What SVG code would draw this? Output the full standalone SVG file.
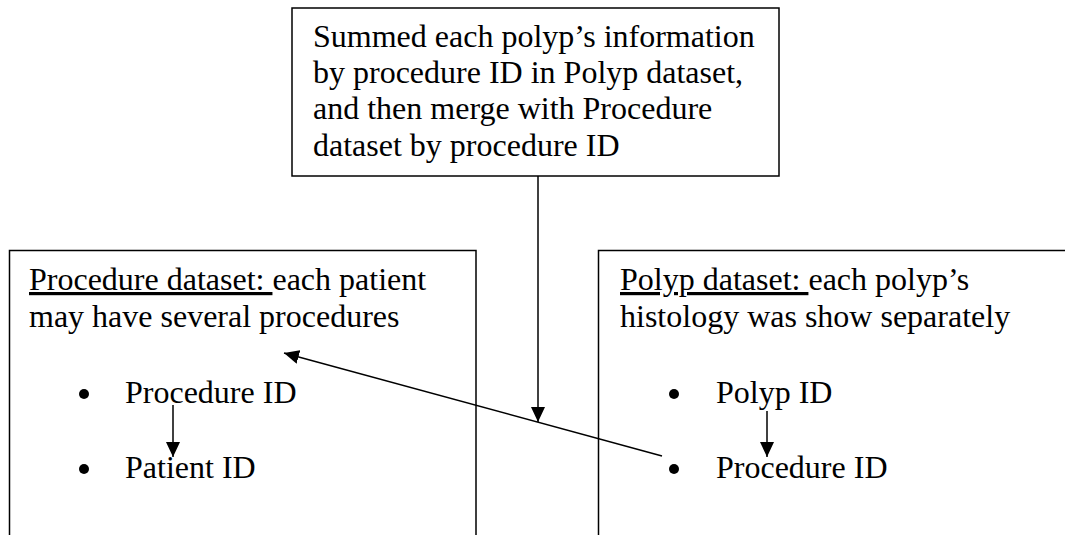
<svg xmlns="http://www.w3.org/2000/svg" width="1065" height="535" viewBox="0 0 1065 535">
<defs>
<style>
.box{fill:#fff;stroke:#000;stroke-width:1.5}
.t{font-family:"Liberation Serif","Times New Roman",serif;font-size:32px;fill:#000}
.u{text-decoration:underline}
.ln{stroke:#000;stroke-width:1.5;fill:none}
</style>
<marker id="ah" viewBox="0 0 15 14" refX="15" refY="7" markerWidth="15" markerHeight="14" markerUnits="userSpaceOnUse" orient="auto">
<path d="M0,0 L15,7 L0,14 z" fill="#000"/>
</marker>
</defs>
<rect width="1065" height="535" fill="#fff"/>
<g id="top-node">
<rect class="box" x="292" y="8" width="487" height="168"/>
<text class="t" x="313" y="47">Summed each polyp’s information</text>
<text class="t" x="313" y="83">by procedure ID in Polyp dataset,</text>
<text class="t" x="313" y="119">and then merge with Procedure</text>
<text class="t" x="313" y="156">dataset by procedure ID</text>
</g>
<g id="procedure-node">
<path class="ln" d="M9.5,540 V250.5 H476 V540"/>
<text class="t" x="29" y="290"><tspan class="u">Procedure dataset: </tspan>each patient</text>
<text class="t" x="29" y="327">may have several procedures</text>
<circle cx="84" cy="394" r="5"/>
<text class="t" x="125" y="403">Procedure ID</text>
<circle cx="84" cy="469" r="5"/>
<text class="t" x="125" y="478">Patient ID</text>
</g>
<g id="polyp-node">
<path class="ln" d="M598.5,540 V250.5 H1070"/>
<text class="t" x="620" y="290"><tspan class="u">Polyp dataset: </tspan>each polyp’s</text>
<text class="t" x="620" y="327">histology was show separately</text>
<circle cx="674" cy="394" r="5"/>
<text class="t" x="716" y="403">Polyp ID</text>
<circle cx="674" cy="469" r="5"/>
<text class="t" x="716" y="478">Procedure ID</text>
</g>
<g id="connectors">
<line class="ln" x1="538" y1="176" x2="538" y2="422" marker-end="url(#ah)"/>
<line class="ln" x1="662" y1="456" x2="284" y2="353" marker-end="url(#ah)"/>
<line class="ln" x1="173" y1="405" x2="173" y2="457" marker-end="url(#ah)"/>
<line class="ln" x1="767" y1="411" x2="767" y2="457" marker-end="url(#ah)"/>
</g>
</svg>
